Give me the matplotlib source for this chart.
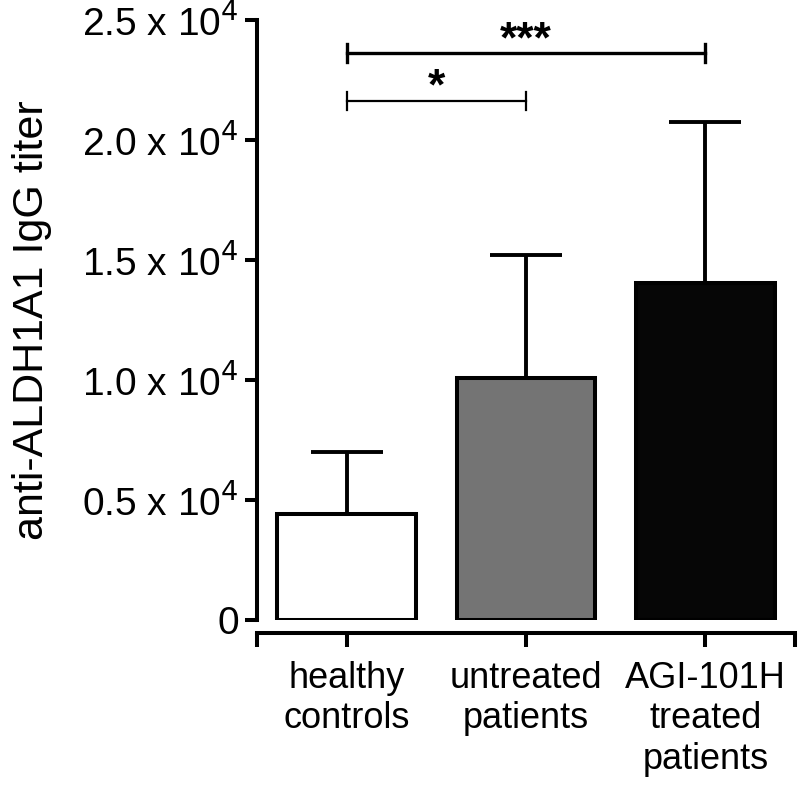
import matplotlib
matplotlib.use("Agg")
import matplotlib.pyplot as plt

plt.rcParams['font.family'] = ['Liberation Sans', 'DejaVu Sans']

groups = ["healthy\ncontrols", "untreated\npatients", "AGI-101H\ntreated\npatients"]
means = [4430, 10070, 14030]
err_up = [2560, 5130, 6710]
colors = ["white", "#747474", "#060606"]
ytick_vals = [0, 5000, 10000, 15000, 20000, 25000]
ytick_text = ["0", r"0.5 x 10$^{4}$", r"1.0 x 10$^{4}$", r"1.5 x 10$^{4}$",
              r"2.0 x 10$^{4}$", r"2.5 x 10$^{4}$"]
# significance brackets: (from group, to group, height, label, line width)
sig = [(0, 2, 23620, "***", 2.4), (0, 1, 21630, "*", 1.6)]

fig = plt.figure(figsize=(8, 7.87), dpi=100)
ax = fig.add_axes([0.321, 0.2122, 0.673, 0.7624])

x = list(range(len(groups)))
ax.bar(x, means, width=0.77, color=colors, edgecolor="black", linewidth=2.9, zorder=2)
ax.errorbar(x, means, yerr=[[0] * len(means), err_up], fmt="none", ecolor="black",
            elinewidth=2.8, capsize=26, capthick=2.8, zorder=1)

for a, b, h, lab, lw in sig:
    ax.plot([a, b], [h, h], color="black", lw=lw, clip_on=False)
    for xx in (a, b):
        ax.plot([xx, xx], [h - 380, h + 380], color="black", lw=lw, clip_on=False)
    ax.text((a + b) / 2, h + 50, lab, ha="center", va="baseline", fontsize=32,
            fontweight="bold")

ax.set_xlim(-0.5, 2.5)
ax.set_ylim(0, 25000)
ax.set_yticks(ytick_vals)
ax.set_yticklabels(ytick_text)
ax.set_xticks([-0.5] + x + [2.5])
ax.set_xticklabels([""] + groups + [""])
for t in ax.get_xticklabels():
    t.set_linespacing(1.03)
ax.tick_params(axis="y", length=9, width=2.9, pad=4, labelsize=28)
ax.tick_params(axis="x", length=10, width=2.9, pad=10, labelsize=26)
ax.set_ylabel("anti-ALDH1A1 IgG titer", fontsize=31, labelpad=22)

ax.spines["top"].set_visible(False)
ax.spines["right"].set_visible(False)
ax.spines["left"].set_linewidth(2.9)
ax.spines["bottom"].set_linewidth(2.9)
ax.spines["bottom"].set_position(("outward", 9.4))

fig.savefig("out.png", dpi=100)
